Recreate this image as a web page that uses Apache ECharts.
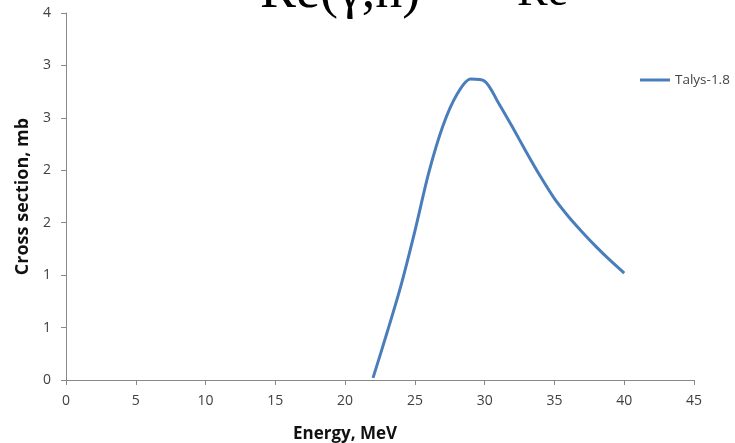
<!DOCTYPE html>
<html>
<head>
<meta charset="utf-8">
<script src="https://cdn.jsdelivr.net/npm/echarts@6/dist/echarts.min.js"></script>
<style>
html,body{margin:0;padding:0;background:#fff;}
#chart{width:735px;height:443px;}
</style>
</head>
<body>
<div id="chart"></div>
<script>
const energies = [22, 23, 24, 25, 26, 27, 28, 29, 30, 31, 32, 33, 34, 35, 36, 37, 38, 39, 40];
const crossSection = [0.02, 0.45, 0.90, 1.42, 1.98, 2.42, 2.72, 2.87, 2.85, 2.64, 2.41, 2.17, 1.94, 1.73, 1.56, 1.41, 1.27, 1.14, 1.02];
const seriesName = 'Talys-1.8';
const xTitle = 'Energy, MeV';
const yTitle = 'Cross section, mb';
const titleLeft = 'Re(γ,n)';
const titleRight = 'Re';

const chart = echarts.init(document.getElementById('chart'));
const labelFont = '"Open Sans", sans-serif';
chart.setOption({
  animation: false,
  backgroundColor: '#fff',
  grid: {left: 66, right: 41, top: 13, bottom: 63, containLabel: false, outerBoundsMode: 'none'},
  graphic: [
    {type: 'text', left: 260, top: -34, style: {text: titleLeft, font: '54px "Liberation Serif", serif', fill: '#000'}},
    {type: 'text', left: 517, top: -30, style: {text: titleRight, font: '46px "Liberation Serif", serif', fill: '#000'}}
  ],
  legend: {
    left: 635, top: 68,
    itemWidth: 30, itemHeight: 3, icon: 'rect', itemGap: 5,
    textStyle: {fontFamily: labelFont, fontSize: 13.5, color: '#444'},
    data: [seriesName]
  },
  xAxis: {
    type: 'value', min: 0, max: 45, interval: 5,
    name: xTitle, nameLocation: 'middle', nameGap: 46,
    nameTextStyle: {fontFamily: labelFont, fontWeight: 'bold', fontSize: 17, color: '#111', padding: [0, 70, 0, 0]},
    axisLine: {lineStyle: {color: '#888', width: 1}},
    axisTick: {show: true, length: 5, lineStyle: {color: '#888'}},
    axisLabel: {fontFamily: labelFont, fontSize: 14, color: '#404040', margin: 14},
    splitLine: {show: false}
  },
  yAxis: {
    type: 'value', min: 0, max: 3.5, interval: 0.5,
    name: yTitle, nameLocation: 'middle', nameGap: 33,
    nameTextStyle: {fontFamily: labelFont, fontWeight: 'bold', fontSize: 18, color: '#111'},
    axisLine: {show: true, lineStyle: {color: '#888', width: 1}},
    axisTick: {show: true, length: 5, lineStyle: {color: '#888'}},
    axisLabel: {fontFamily: labelFont, fontSize: 14, color: '#404040', margin: 15,
      formatter: v => String(Math.round(v))},
    splitLine: {show: false}
  },
  series: [{
    name: seriesName, type: 'line', smooth: 0.3, symbol: 'none',
    data: energies.map((e, i) => [e, crossSection[i]]),
    lineStyle: {color: '#4A7EBB', width: 3},
    itemStyle: {color: '#4A7EBB'}
  }]
});
</script>
</body>
</html>
